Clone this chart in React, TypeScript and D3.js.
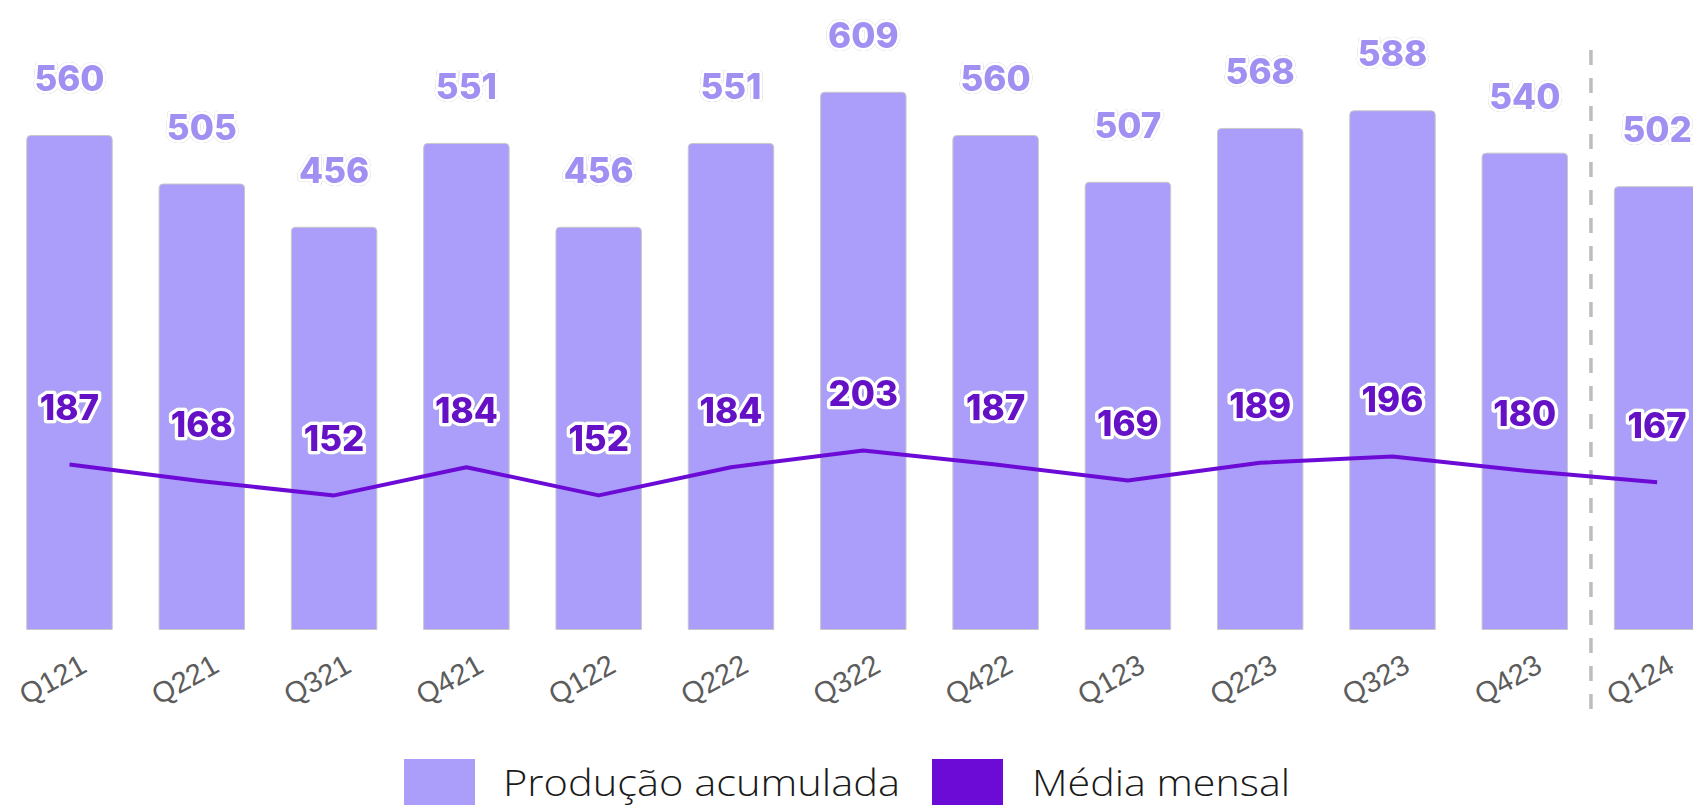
import React from "react";
import * as d3 from "d3";

const categories = ["Q121","Q221","Q321","Q421","Q122","Q222","Q322","Q422","Q123","Q223","Q323","Q423","Q124"];
const producao = [560,505,456,551,456,551,609,560,507,568,588,540,502];
const media = [187,168,152,184,152,184,203,187,169,189,196,180,167];
const legendLabels = ["Produção acumulada","Média mensal"];

const W = 1693, H = 805;
const BAR = "#AB9DFA";
const LINE = "#6C0BD5";
const BAR_LABEL = "#A190F2";
const LINE_LABEL = "#6511C6";

export default function App() {
  const x = d3.scaleBand<string>().domain(categories).range([3.35, 1723.25]).paddingInner(0.354).paddingOuter(0.177);
  const y = d3.scaleLinear().domain([0, 700]).range([629.5, 12]);
  const bw = x.bandwidth();
  const cx = (c: string) => (x(c) as number) + bw / 2;
  const r = 4;
  const barPath = (c: string, v: number) => {
    const x0 = x(c) as number, x1 = x0 + bw, y0 = y(0), y1 = y(v);
    return `M${x0},${y0}V${y1 + r}Q${x0},${y1} ${x0 + r},${y1}H${x1 - r}Q${x1},${y1} ${x1},${y1 + r}V${y0}Z`;
  };
  const line = d3.line<number>().x((_, i) => cx(categories[i])).y((d) => y(d));
  const sepX = cx("Q423") + x.step() / 2;
  const numStyle: React.CSSProperties = {
    fontFamily: "Inter, 'Open Sans', sans-serif",
    fontWeight: 800,
    fontSize: 35,
    paintOrder: "stroke",
    strokeLinejoin: "round",
    filter: "drop-shadow(0 0 0.7px rgba(0,0,0,0.35))",
  };
  return (
    <svg width={W} height={H} style={{ position: "absolute", left: 0, top: 0, background: "#fff", overflow: "hidden" }}>
      <g>
        {categories.map((c, i) => (
          <path key={c} d={barPath(c, producao[i])} fill={BAR} stroke="#c8c8c8" strokeWidth={1} />
        ))}
      </g>
      <line x1={sepX} x2={sepX} y1={50} y2={711} stroke="#bdbdbd" strokeWidth={3.5} strokeDasharray="15 13" />
      <path d={line(media) || ""} fill="none" stroke={LINE} strokeWidth={4} strokeLinejoin="round" />
      <g>
        {categories.map((c, i) => (
          <text key={c} x={cx(c)} y={y(producao[i]) - 44.5} textAnchor="middle" fill={BAR_LABEL} stroke="#fff" strokeWidth={6} style={numStyle}>
            {producao[i]}
          </text>
        ))}
      </g>
      <g>
        {categories.map((c, i) => (
          <text key={c} x={cx(c)} y={y(media[i]) - 44.5} textAnchor="middle" fill={LINE_LABEL} stroke="#fff" strokeWidth={7} style={numStyle}>
            {media[i]}
          </text>
        ))}
      </g>
      <g>
        {categories.map((c) => (
          <text key={c} transform={`translate(${cx(c) + 19},${671}) rotate(-29)`} textAnchor="end" fill="#5c5c5c" fontFamily="'Liberation Sans', Arial, sans-serif" fontSize={29}>
            {c}
          </text>
        ))}
      </g>
      <g>
        <rect x={404} y={759} width={71} height={50} fill={BAR} />
        <text x={503} y={796} fontFamily="'Open Sans', sans-serif" fontWeight={300} fontSize={37} fill="#1a1a1a" textLength={397} lengthAdjust="spacingAndGlyphs">{legendLabels[0]}</text>
        <rect x={932} y={759} width={71} height={50} fill={LINE} />
        <text x={1032} y={796} fontFamily="'Open Sans', sans-serif" fontWeight={300} fontSize={37} fill="#1a1a1a" textLength={258} lengthAdjust="spacingAndGlyphs">{legendLabels[1]}</text>
      </g>
    </svg>
  );
}
